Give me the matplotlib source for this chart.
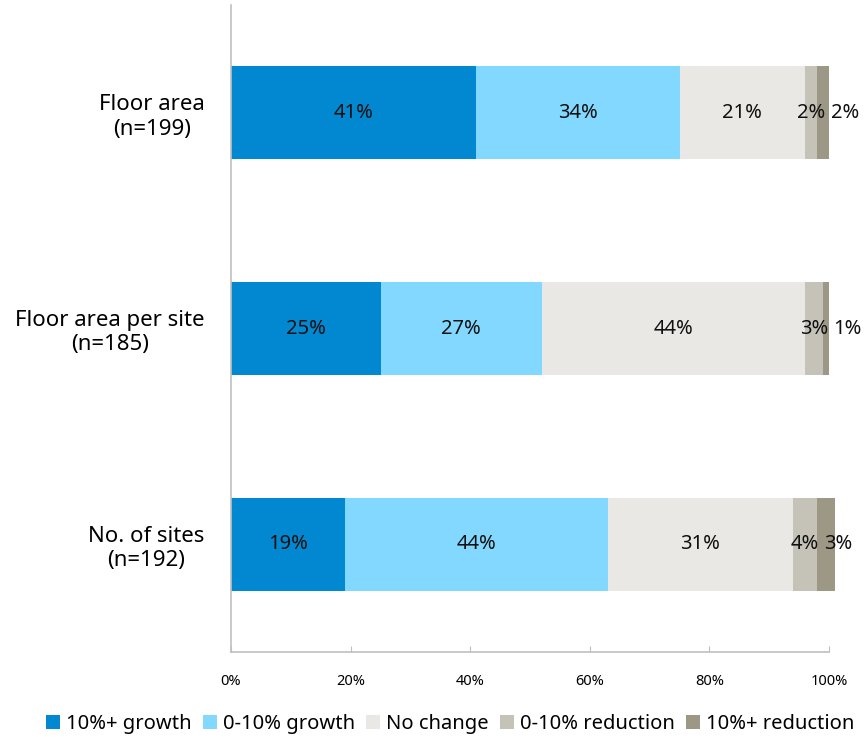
import matplotlib
matplotlib.use("Agg")
import matplotlib.pyplot as plt
from matplotlib.patches import Patch

plt.rcParams['font.family'] = ['Noto Sans', 'DejaVu Sans']

categories = ["Floor area\n(n=199)", "Floor area per site\n(n=185)", "No. of sites\n(n=192)"]
series_names = ["10%+ growth", "0-10% growth", "No change", "0-10% reduction", "10%+ reduction"]
values = {
    "10%+ growth":     [41, 25, 19],
    "0-10% growth":    [34, 27, 44],
    "No change":       [21, 44, 31],
    "0-10% reduction": [2, 3, 4],
    "10%+ reduction":  [2, 1, 3],
}
colors = ["#0288d1", "#82d8ff", "#e9e8e4", "#c5c3b8", "#9d9886"]
xticks = [0, 20, 40, 60, 80, 100]

fig = plt.figure(figsize=(8.64, 7.37), dpi=100)
ax = fig.add_axes([0.2674, 0.1153, 0.6921, 0.8779])

y = list(range(len(categories)))
left = [0] * len(categories)
prev_centers = [None] * len(categories)
for si, (name, col) in enumerate(zip(series_names, colors)):
    vals = values[name]
    ax.barh(y, vals, left=left, height=0.43, color=col, label=name, clip_on=False)
    for i, (yi, l, v) in enumerate(zip(y, left, vals)):
        c = l + v / 2
        if si == len(series_names) - 1 and v < 5:
            # nudge the last small label to the right of the previous one (as in the reference)
            ax.annotate(f"{v}%", xy=(prev_centers[i], yi), xytext=(14, 0), textcoords='offset points',
                        ha='left', va='center', fontsize=14.5, color='#111111', annotation_clip=False)
        else:
            ax.text(c, yi, f"{v}%", ha='center', va='center', fontsize=14.5, color='#111111')
        prev_centers[i] = c
    left = [a + b for a, b in zip(left, vals)]

ax.set_xlim(0, 100)
ax.set_ylim(2.5, -0.5)
ax.set_yticks(y)
ax.set_yticklabels(categories, fontsize=16, multialignment='center', linespacing=1.2)
ax.tick_params(axis='y', length=0, pad=19)
ax.set_xticks(xticks)
ax.set_xticklabels([f"{t}%" for t in xticks], fontsize=10.5)
ax.tick_params(axis='x', direction='in', length=4, color='#bfbfbf', pad=16)

for s in ['top', 'right']:
    ax.spines[s].set_visible(False)
for s in ['left', 'bottom']:
    ax.spines[s].set_color('#c0c0c0')
    ax.spines[s].set_linewidth(1.2)

handles = [Patch(facecolor=c, edgecolor='none', label=n) for n, c in zip(series_names, colors)]
fig.legend(handles=handles, loc='center', bbox_to_anchor=(0.521, 0.017), ncol=5, frameon=False,
           fontsize=14.5, handlelength=0.7, handleheight=0.7, handletextpad=0.3, columnspacing=0.55)

fig.savefig("out.png", dpi=100)
